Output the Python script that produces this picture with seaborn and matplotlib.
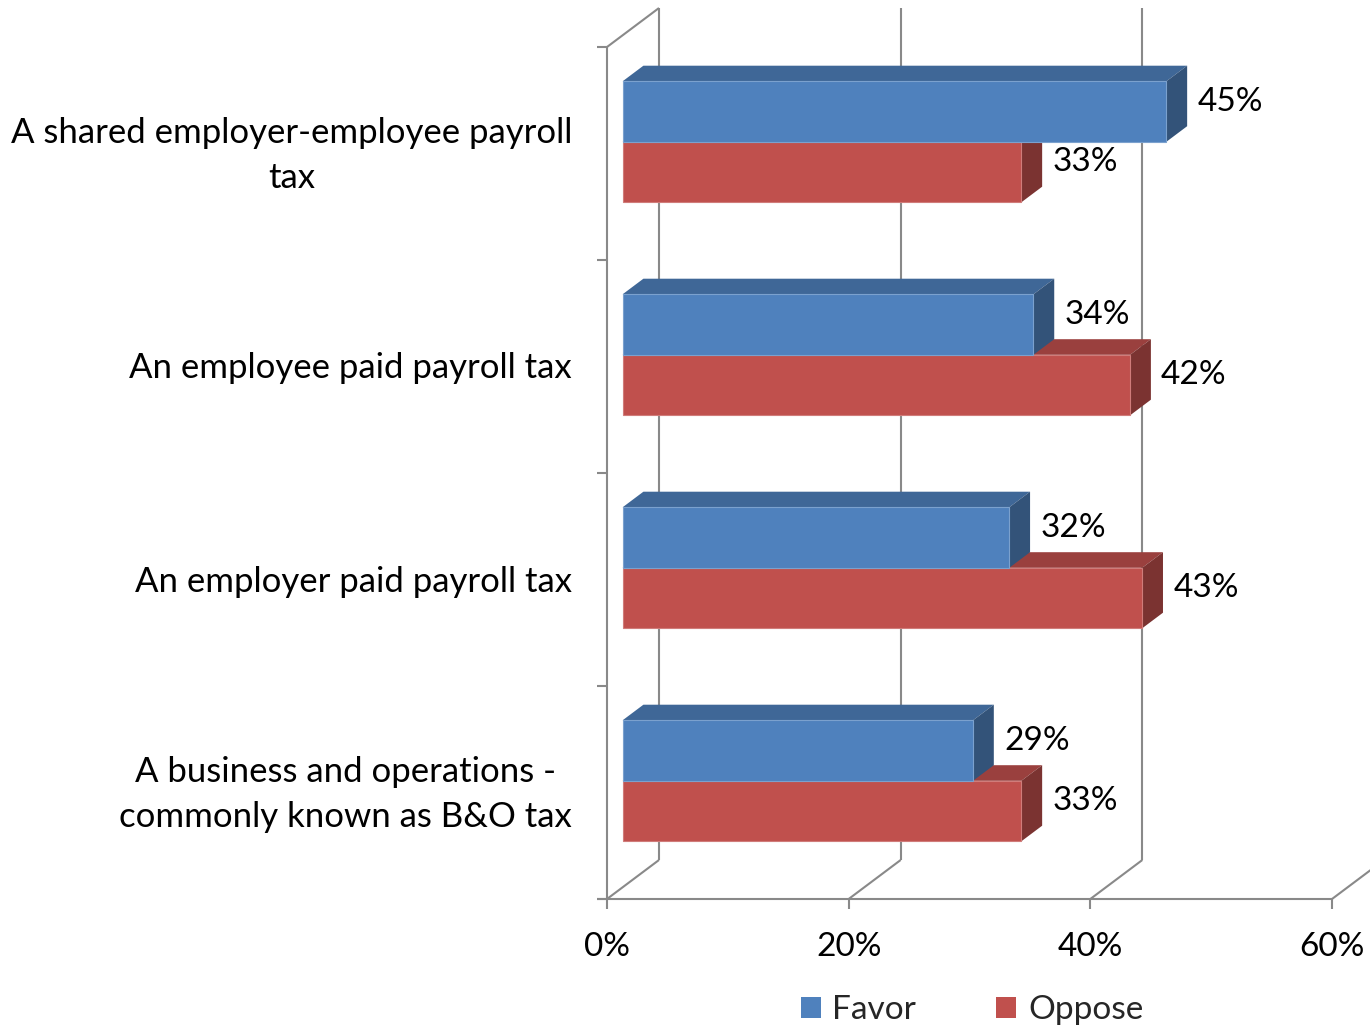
import matplotlib
matplotlib.use("Agg")
import matplotlib.pyplot as plt
from matplotlib.patches import Polygon, Patch
from matplotlib.colors import to_rgb
import pandas as pd
import seaborn as sns

# ---- data -------------------------------------------------------------
categories = [
    "A shared employer-employee payroll\ntax",
    "An employee paid payroll tax",
    "An employer paid payroll tax",
    "A business and operations -\ncommonly known as B&O tax",
]
series = ["Favor", "Oppose"]
favor = [45, 34, 32, 29]
oppose = [33, 42, 43, 33]
x_ticks = [0, 20, 40, 60]
x_tick_labels = ["0%", "20%", "40%", "60%"]

colors = {"Favor": "#4F81BD", "Oppose": "#C0504D"}

df = pd.DataFrame({
    "category": categories * 2,
    "series": ["Favor"] * len(categories) + ["Oppose"] * len(categories),
    "value": favor + oppose,
})
values = {"Favor": favor, "Oppose": oppose}

# ---- style ------------------------------------------------------------
sns.set_style("white")
plt.rcParams["font.family"] = ["Lato", "DejaVu Sans"]
FS = 24          # value labels, tick labels, legend
FS_CAT = 25      # category labels
GRID = "#898989"

# ---- geometry of the pseudo-3D box (in pixels of the output) ---------
W, H = 1370, 1027
PX_PER_PCT = (1332 - 607) / 60.0      # horizontal scale on the front wall
PX_PER_CAT = 213.0                    # height of one category band
FRONT_X0 = 607.0                      # 0% on the front edge of the floor
FRONT_Y0 = 153.5                      # centre of first band on the front wall
DEPTH = (52.0, -39.0)                 # full box depth as a screen offset
BAR_D0, BAR_DEPTH = 0.3, 0.4          # bar front plane and bar thickness

# data coordinates are those of the bars' front plane
x0_px = FRONT_X0 + BAR_D0 * DEPTH[0]
y0_px = FRONT_Y0 + BAR_D0 * DEPTH[1]
DX = DEPTH[0] / PX_PER_PCT
DY = DEPTH[1] / PX_PER_CAT


def P(v, c, d):
    """Point at value v, category position c and depth d (0 front, 1 back)."""
    return (v + (d - BAR_D0) * DX, c + (d - BAR_D0) * DY)


def shade(color, f):
    r, g, b = to_rgb(color)
    return (r * f, g * f, b * f)


def tint(color, f):
    r, g, b = to_rgb(color)
    return (r + (1 - r) * f, g + (1 - g) * f, b + (1 - b) * f)


fig = plt.figure(figsize=(W / 100, H / 100), dpi=100)
fig.patch.set_facecolor("white")
ax = fig.add_axes([0, 0, 1, 1])

sns.barplot(
    data=df, y="category", x="value", hue="series", orient="h",
    palette=colors, hue_order=series, order=categories,
    width=121 / PX_PER_CAT, saturation=1, legend=False, ax=ax,
)

ax.set_xlim(-x0_px / PX_PER_PCT, (W - x0_px) / PX_PER_PCT)
ax.set_ylim((H - y0_px) / PX_PER_CAT, -y0_px / PX_PER_CAT)
ax.axis("off")

# ---- walls, floor and gridlines --------------------------------------
line_kw = dict(color=GRID, lw=1.5, zorder=1, solid_capstyle="butt")
n = len(categories)
top_c, bot_c = -0.5, n - 0.5
tick_v = 10 / PX_PER_PCT
tick_c = 10 / PX_PER_CAT


def seg(a, b, **kw):
    ax.plot([a[0], b[0]], [a[1], b[1]], **{**line_kw, **kw})


seg(P(0, top_c, 0), P(0, bot_c, 0))                 # left wall front edge
seg(P(0, top_c, 0), P(0, top_c, 1))                 # left wall top edge
seg(P(-tick_v, bot_c, 0), P(x_ticks[-1], bot_c, 0))  # floor front edge
for i in range(n + 1):
    c = top_c + i
    seg(P(-tick_v, c, 0), P(0, c, 0))               # category ticks
for v, lab in zip(x_ticks, x_tick_labels):
    seg(P(v, top_c, 1), P(v, bot_c, 1))             # back wall gridline
    seg(P(v, bot_c, 0), P(v, bot_c, 1))             # floor depth line
    seg(P(v, bot_c, 0), P(v, bot_c + tick_c, 0))    # value tick
    tx, ty = P(v, bot_c + 48 / PX_PER_CAT, 0)
    ax.text(tx, ty, lab, ha="center", va="center", fontsize=FS, color="black")

for i, cat in enumerate(categories):
    tx, ty = P(-35 / PX_PER_PCT, i + 2 / PX_PER_CAT, 0)
    ax.text(tx, ty, cat, ha="right", va="center", multialignment="center",
            fontsize=FS_CAT, linespacing=1.53, color="black")

# ---- 3D bar faces -----------------------------------------------------
bdx, bdy = BAR_DEPTH * DX, BAR_DEPTH * DY
for k, (name, cont) in enumerate(zip(series, ax.containers)):
    base = colors[name]
    z = 3 if name == "Favor" else 2
    for bar, val in zip(cont, values[name]):
        x, y, h = bar.get_x(), bar.get_y(), bar.get_height()
        w = bar.get_width()
        bar.set_zorder(z + 0.2)
        bar.set_edgecolor(tint(base, 0.25))
        bar.set_linewidth(0.8)
        top = Polygon([(x, y), (x + w, y), (x + w + bdx, y + bdy), (x + bdx, y + bdy)],
                      closed=True, facecolor=shade(base, 0.8), edgecolor="none",
                      zorder=z + 0.1)
        side = Polygon([(x + w, y), (x + w, y + h), (x + w + bdx, y + h + bdy),
                        (x + w + bdx, y + bdy)],
                       closed=True, facecolor=shade(base, 0.64), edgecolor="none",
                       zorder=z + 0.1)
        ax.add_patch(top)
        ax.add_patch(side)
        ax.annotate(f"{val}%", xy=(val, y + h / 2), xytext=(31, 10),
                    textcoords="offset pixels", ha="left", va="center",
                    fontsize=FS, color="black", zorder=5)

# ---- legend -----------------------------------------------------------
handles = [Patch(facecolor=colors[s], edgecolor="none") for s in series]
fig.legend(handles, series, loc="center", bbox_to_anchor=(972 / W, 1 - 1010 / H),
           ncol=2, frameon=False, fontsize=FS, handlelength=0.6, handleheight=0.6,
           handletextpad=0.35, columnspacing=2.4, borderpad=0, borderaxespad=0)

fig.savefig("out.png", dpi=100, facecolor="white")
